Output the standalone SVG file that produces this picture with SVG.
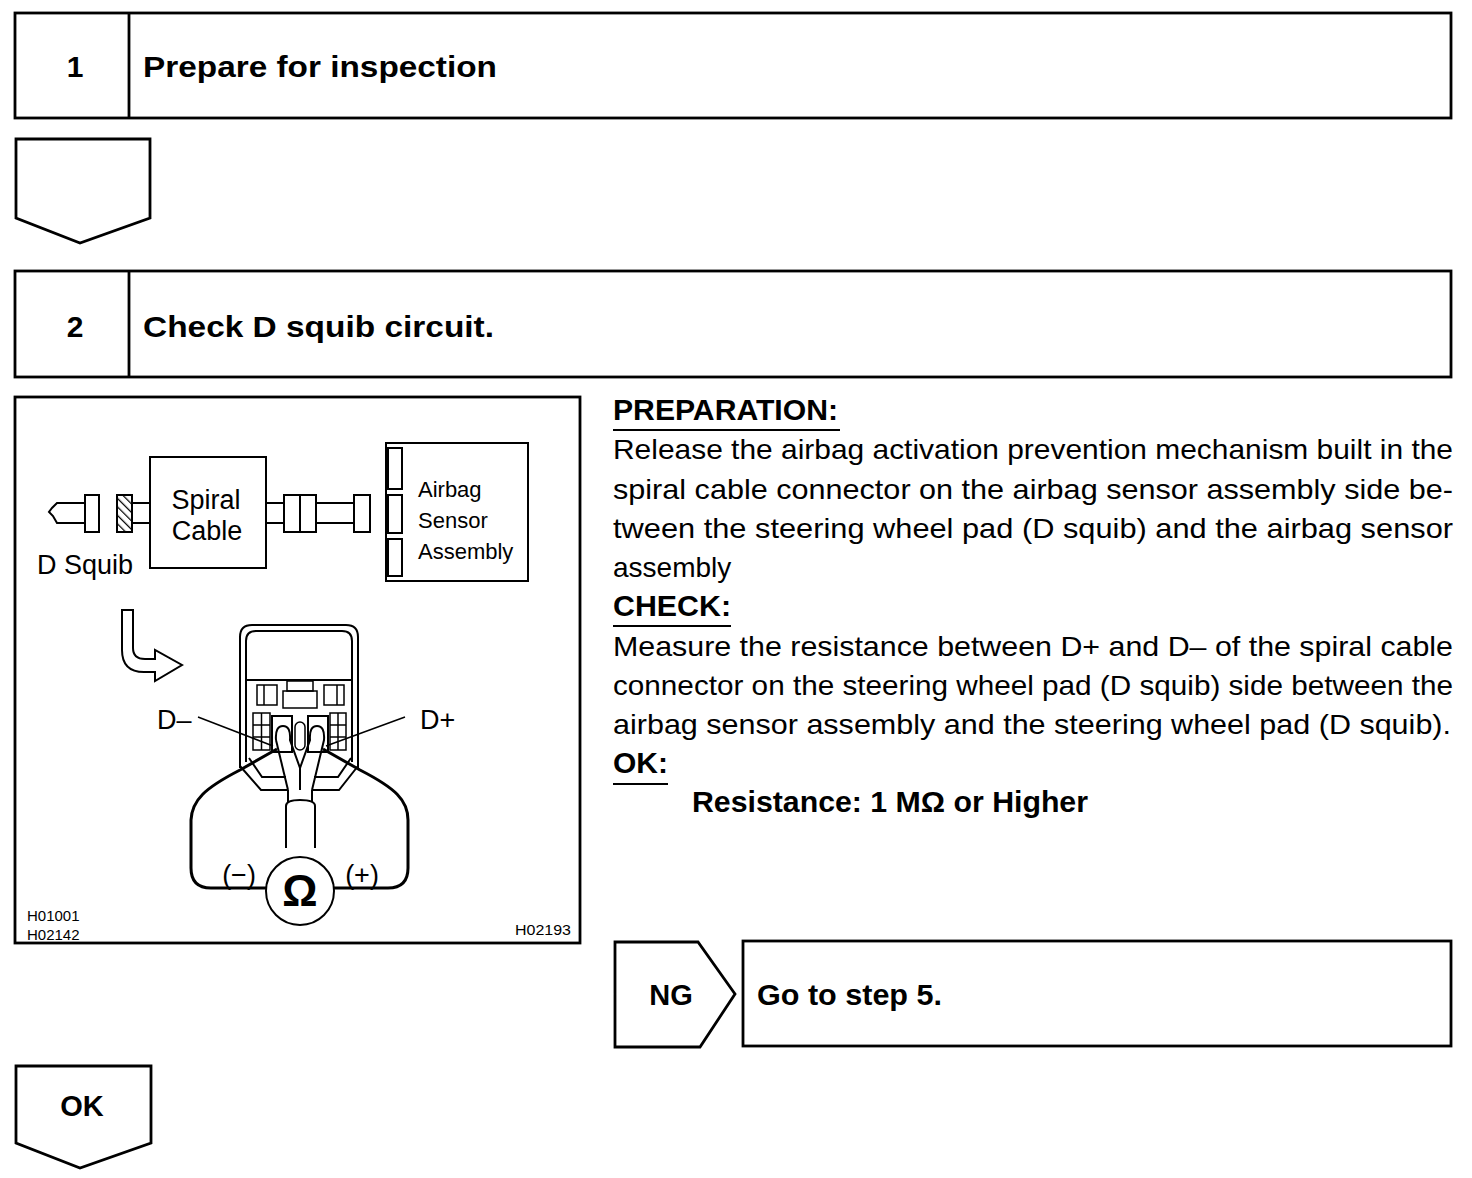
<svg xmlns="http://www.w3.org/2000/svg" width="1472" height="1178" viewBox="0 0 1472 1178">
<style>
.box{fill:none;stroke:#000;stroke-width:2.8}
.ln{fill:none;stroke:#000;stroke-width:2}
.thin{fill:none;stroke:#000;stroke-width:1.5}
.thick{fill:none;stroke:#000;stroke-width:3}
.hb{font-family:"Liberation Sans",Arial,sans-serif;font-weight:bold;font-size:30px;fill:#000}
.bt{font-family:"Liberation Sans",Arial,sans-serif;font-size:28px;fill:#000}
.bb{font-family:"Liberation Sans",Arial,sans-serif;font-weight:bold;font-size:29px;fill:#000}
.il{font-family:"Liberation Sans",Arial,sans-serif;font-size:27px;fill:#000}
.is{font-family:"Liberation Sans",Arial,sans-serif;font-size:22px;fill:#000}
.code{font-family:"Liberation Sans",Arial,sans-serif;font-size:15px;fill:#000}
</style>
<defs>
<pattern id="hatch" patternUnits="userSpaceOnUse" width="6" height="6" patternTransform="rotate(-45)">
<rect width="6" height="6" fill="#fff"/>
<line x1="0" y1="0" x2="0" y2="6" stroke="#000" stroke-width="2.5"/>
</pattern>
</defs>
<rect width="1472" height="1178" fill="#fff"/>

<g id="step1">
<rect class="box" x="15" y="13" width="1436" height="105"/>
<line class="box" x1="129" y1="13" x2="129" y2="118"/>
<text class="hb" x="75" y="77" text-anchor="middle">1</text>
<text class="hb" x="143" y="77" textLength="354" lengthAdjust="spacingAndGlyphs">Prepare for inspection</text>
</g>

<g id="arrow1">
<path class="box" d="M16,139 L150,139 L150,218 L80,243 L16,218 Z"/>
</g>

<g id="step2">
<rect class="box" x="15" y="271" width="1436" height="106"/>
<line class="box" x1="129" y1="271" x2="129" y2="377"/>
<text class="hb" x="75" y="337" text-anchor="middle">2</text>
<text class="hb" x="143" y="337" textLength="351" lengthAdjust="spacingAndGlyphs">Check D squib circuit.</text>
</g>

<g id="illustration">
<rect class="box" x="15" y="397" width="565" height="546"/>
<path class="ln" d="M85,503 L57,503 L52,508 L49,512 L53,516 L57,523 L85,523"/>
<rect class="ln" x="85" y="495" width="14" height="37" fill="#fff"/>
<rect x="117" y="495" width="15" height="37" fill="url(#hatch)" stroke="#000" stroke-width="2"/>
<line class="ln" x1="132" y1="503" x2="150" y2="503"/>
<line class="ln" x1="132" y1="523" x2="150" y2="523"/>
<rect class="ln" x="150" y="457" width="116" height="111"/>
<text class="il" x="206" y="509" text-anchor="middle">Spiral</text>
<text class="il" x="207" y="540" text-anchor="middle">Cable</text>
<text class="il" x="37" y="574">D Squib</text>
<line class="ln" x1="266" y1="503" x2="284" y2="503"/>
<line class="ln" x1="266" y1="523" x2="284" y2="523"/>
<rect class="ln" x="284" y="495" width="32" height="37"/>
<line class="ln" x1="300" y1="495" x2="300" y2="532"/>
<line class="ln" x1="316" y1="503" x2="354" y2="503"/>
<line class="ln" x1="316" y1="523" x2="354" y2="523"/>
<rect class="ln" x="354" y="495" width="16" height="37"/>
<rect class="ln" x="386" y="443" width="142" height="138"/>
<rect class="ln" x="388" y="448" width="14" height="41"/>
<rect class="ln" x="388" y="495" width="14" height="38"/>
<rect class="ln" x="388" y="539" width="14" height="37"/>
<text class="is" x="418" y="497">Airbag</text>
<text class="is" x="418" y="528">Sensor</text>
<text class="is" x="418" y="559">Assembly</text>

<path class="ln" d="M122,610 L122,650 Q122,672 144,672 L155,672 L155,681 L182,665 L155,650 L155,659 L145,659 Q133,659 133,648 L133,610 Z"/>

<path class="ln" d="M240,768 L240,637 Q240,625 252,625 L346,625 Q358,625 358,637 L358,768"/>
<path class="ln" d="M246,762 L246,641 Q246,631 256,631 L342,631 Q352,631 352,641 L352,762"/>
<line class="ln" x1="246" y1="680" x2="352" y2="680"/>
<path class="ln" d="M240,766 L261,790 L287,790"/>
<path class="ln" d="M358,766 L339,790 L313,790"/>
<path class="ln" d="M249,758 L262,777 L286,777"/>
<path class="ln" d="M351,758 L338,777 L314,777"/>
<rect class="thin" x="257" y="685" width="20" height="20"/>
<line class="thin" x1="264" y1="685" x2="264" y2="705"/>
<rect class="thin" x="324" y="685" width="20" height="20"/>
<line class="thin" x1="337" y1="685" x2="337" y2="705"/>
<rect class="thin" x="287" y="681" width="26" height="10"/>
<rect class="thin" x="283" y="691" width="34" height="17"/>
<rect class="thin" x="253" y="713" width="17" height="37"/>
<line class="thin" x1="261.5" y1="713" x2="261.5" y2="750"/>
<line class="thin" x1="253" y1="725" x2="270" y2="725"/>
<line class="thin" x1="253" y1="737" x2="270" y2="737"/>
<rect class="thin" x="330" y="713" width="16" height="37"/>
<line class="thin" x1="338" y1="713" x2="338" y2="750"/>
<line class="thin" x1="330" y1="725" x2="346" y2="725"/>
<line class="thin" x1="330" y1="737" x2="346" y2="737"/>
<rect class="ln" x="272" y="716" width="20" height="36"/>
<rect class="ln" x="308" y="716" width="20" height="36"/>
<rect class="thin" x="295" y="722" width="10" height="28" rx="5"/>
<path class="ln" d="M276,740 Q275,726 283,726 Q291,726 290,740 L300,768 L310,740 Q309,726 317,726 Q325,726 324,740 L312,790" fill="#fff"/>
<path class="ln" d="M276,740 L288,790"/>
<line class="ln" x1="300" y1="768" x2="300" y2="790"/>
<line class="ln" x1="288" y1="790" x2="288" y2="802"/>
<line class="ln" x1="312" y1="790" x2="312" y2="802"/>
<path class="ln" d="M286,848 L286,806 Q286,800 300,800 Q315,800 315,806 L315,848"/>
<line class="thin" x1="198" y1="717" x2="273" y2="746"/>
<line class="thin" x1="405" y1="717" x2="326" y2="746"/>
<text class="il" x="157" y="729" font-size="26">D–</text>
<text class="il" x="420" y="729" font-size="26">D+</text>
<path class="thick" d="M277,749 L240,770 C205,788 192,800 191,820 L191,868 Q191,888 211,888 L267,888"/>
<path class="thick" d="M323,749 L360,770 C395,788 408,800 408,820 L408,868 Q408,888 388,888 L333,888"/>
<circle class="ln" cx="300" cy="891" r="34" fill="#fff"/>
<text x="300" y="906" text-anchor="middle" font-family="Liberation Sans, Arial, sans-serif" font-weight="bold" font-size="44">Ω</text>
<text class="il" x="239" y="884" text-anchor="middle" font-size="30">(−)</text>
<text class="il" x="362" y="884" text-anchor="middle" font-size="30">(+)</text>
<text class="code" x="27" y="921">H01001</text>
<text class="code" x="27" y="940">H02142</text>
<text class="code" x="515" y="935" textLength="56" lengthAdjust="spacingAndGlyphs">H02193</text>
</g>

<g id="instructions">
<text class="bb" x="613" y="420" textLength="225" lengthAdjust="spacingAndGlyphs">PREPARATION:</text>
<line class="ln" x1="613" y1="430" x2="840" y2="430"/>
<text class="bt" x="613" y="459" textLength="840" lengthAdjust="spacingAndGlyphs">Release the airbag activation prevention mechanism built in the</text>
<text class="bt" x="613" y="499" textLength="840" lengthAdjust="spacingAndGlyphs">spiral cable connector on the airbag sensor assembly side be-</text>
<text class="bt" x="613" y="538" textLength="840" lengthAdjust="spacingAndGlyphs">tween the steering wheel pad (D squib) and the airbag sensor</text>
<text class="bt" x="613" y="577">assembly</text>
<text class="bb" x="613" y="616" textLength="118" lengthAdjust="spacingAndGlyphs">CHECK:</text>
<line class="ln" x1="613" y1="626" x2="731" y2="626"/>
<text class="bt" x="613" y="656" textLength="840" lengthAdjust="spacingAndGlyphs">Measure the resistance between D+ and D– of the spiral cable</text>
<text class="bt" x="613" y="695" textLength="840" lengthAdjust="spacingAndGlyphs">connector on the steering wheel pad (D squib) side between the</text>
<text class="bt" x="613" y="734" textLength="838" lengthAdjust="spacingAndGlyphs">airbag sensor assembly and the steering wheel pad (D squib).</text>
<text class="bb" x="613" y="773" textLength="55" lengthAdjust="spacingAndGlyphs">OK:</text>
<line class="ln" x1="613" y1="784" x2="668" y2="784"/>
<text class="bb" x="692" y="812" textLength="396" lengthAdjust="spacingAndGlyphs">Resistance: 1 MΩ or Higher</text>
</g>

<g id="ng">
<path class="box" d="M615,942 L698,942 L735,994 L700,1047 L615,1047 Z"/>
<text class="bb" x="671" y="1005" text-anchor="middle">NG</text>
</g>
<g id="goto5">
<rect class="box" x="743" y="941" width="708" height="105"/>
<text class="bb" x="757" y="1005" textLength="185" lengthAdjust="spacingAndGlyphs">Go to step 5.</text>
</g>

<g id="okarrow">
<path class="box" d="M16,1066 L151,1066 L151,1143 L80,1168 L16,1143 Z"/>
<text class="bb" x="82" y="1116" text-anchor="middle">OK</text>
</g>

<g id="connectors"></g>
</svg>
